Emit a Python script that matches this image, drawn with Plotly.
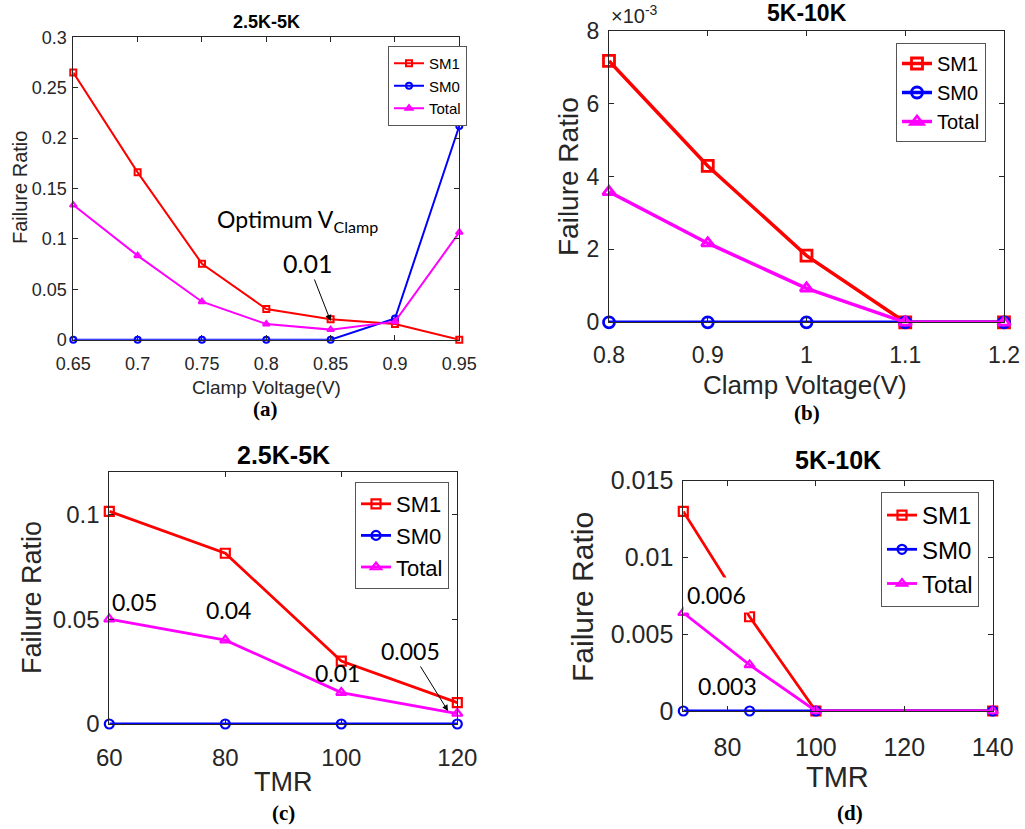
import plotly.graph_objects as go

# ---- (a) Clamp voltage sweep, 2.5K-5K ----
vclamp_a = [0.65, 0.70, 0.75, 0.80, 0.85, 0.90, 0.95]
sm1_a = [0.265, 0.166, 0.0754, 0.0304, 0.0202, 0.0155, 0.0]
sm0_a = [0.0, 0.0, 0.0, 0.0, 0.0, 0.021, 0.212]
total_a = [0.1336, 0.0834, 0.0377, 0.0155, 0.01, 0.0179, 0.1065]
xticks_a = [0.65, 0.70, 0.75, 0.80, 0.85, 0.90, 0.95]
xticktext_a = ["0.65", "0.7", "0.75", "0.8", "0.85", "0.9", "0.95"]
yticks_a = [0, 0.05, 0.10, 0.15, 0.20, 0.25, 0.30]
yticktext_a = ["0", "0.05", "0.1", "0.15", "0.2", "0.25", "0.3"]

# ---- (b) Clamp voltage sweep, 5K-10K ----
vclamp_b = [0.8, 0.9, 1.0, 1.1, 1.2]
sm1_b = [7.17e-3, 4.29e-3, 1.83e-3, 0.0, 0.0]
sm0_b = [0.0, 0.0, 0.0, 0.0, 0.0]
total_b = [3.58e-3, 2.17e-3, 0.93e-3, 0.0, 0.0]
xticks_b = [0.8, 0.9, 1.0, 1.1, 1.2]
xticktext_b = ["0.8", "0.9", "1", "1.1", "1.2"]
yticks_b = [0, 0.002, 0.004, 0.006, 0.008]
yticktext_b = ["0", "2", "4", "6", "8"]

# ---- (c) TMR sweep, 2.5K-5K ----
tmr_c = [60, 80, 100, 120]
sm1_c = [0.1014, 0.0814, 0.030, 0.0102]
sm0_c = [0.0, 0.0, 0.0, 0.0]
total_c = [0.05, 0.04, 0.015, 0.005]
xticks_c = [60, 80, 100, 120]
yticks_c = [0, 0.05, 0.1]
yticktext_c = ["0", "0.05", "0.1"]

# ---- (d) TMR sweep, 5K-10K ----
tmr_d = [70, 85, 100, 140]
sm1_d = [0.0130, 0.00614, 0.0, 0.0]
sm0_d = [0.0, 0.0, 0.0, 0.0]
total_d = [0.0064, 0.003, 0.0, 0.0]
xticks_d = [80, 100, 120, 140]
yticks_d = [0, 0.005, 0.01, 0.015]
yticktext_d = ["0", "0.005", "0.01", "0.015"]

series_names = ["SM1", "SM0", "Total"]
series_colors = ["#FF0000", "#0000FF", "#FF00FF"]
series_symbols = ["square-open", "circle-open", "triangle-up-open"]

W, H = 1025, 829
SANS = "Liberation Sans, Arial, sans-serif"
NOTE = "Lato, Calibri, sans-serif"
SERIF = "Liberation Serif, Times New Roman, serif"
INK = "#262626"


def px_x(p):
    return p / W


def px_y(p):
    return (H - p) / H


fig = go.Figure()

panels = [
    # axis suffix, legend id, x, series, line width, marker size, marker line width
    ("", "legend", vclamp_a, (sm1_a, sm0_a, total_a), 2.0, 6, 2.0),
    ("2", "legend2", vclamp_b, (sm1_b, sm0_b, total_b), 3.5, 11, 2.8),
    ("3", "legend3", tmr_c, (sm1_c, sm0_c, total_c), 2.8, 9, 2.2),
    ("4", "legend4", tmr_d, (sm1_d, sm0_d, total_d), 2.8, 9, 2.2),
]

for suffix, leg, xs, ys_all, lw, ms, mlw in panels:
    for name, color, sym, ys in zip(series_names, series_colors, series_symbols, ys_all):
        fig.add_trace(go.Scatter(
            x=xs, y=ys, name=name, mode="lines+markers",
            xaxis="x" + suffix, yaxis="y" + suffix, legend=leg,
            line=dict(color=color, width=lw),
            marker=dict(symbol=sym, size=ms, color=color, line=dict(color=color, width=mlw)),
            cliponaxis=False,
        ))


def axis(domain, rng, tickvals, ticktext, fsize, standoff, anchor):
    return dict(
        domain=domain, range=rng, tickvals=tickvals, ticktext=ticktext,
        tickfont=dict(family=SANS, size=fsize, color=INK),
        showline=True, linecolor=INK, linewidth=1, mirror="ticks",
        ticks="inside", ticklen=5, tickcolor=INK, tickwidth=1,
        showgrid=False, zeroline=False, anchor=anchor,
        ticklabelstandoff=standoff, automargin=False,
    )


# plot-area rectangles in pixels: left, right, top, bottom
rect_a = (73.3, 459.3, 37.3, 339.7)
rect_b = (609.0, 1004.0, 30.7, 322.3)
rect_c = (109.3, 457.3, 472.3, 724.0)
rect_d = (683.3, 992.7, 480.7, 711.0)


def dom_x(r):
    return [px_x(r[0]), px_x(r[1])]


def dom_y(r):
    return [px_y(r[3]), px_y(r[2])]


fig.update_layout(
    xaxis=axis(dom_x(rect_a), [0.65, 0.95], xticks_a, xticktext_a, 18, 8, "y"),
    yaxis=axis(dom_y(rect_a), [0, 0.3], yticks_a, yticktext_a, 18, 2, "x"),
    xaxis2=axis(dom_x(rect_b), [0.8, 1.2], xticks_b, xticktext_b, 23, 12, "y2"),
    yaxis2=axis(dom_y(rect_b), [0, 0.008], yticks_b, yticktext_b, 23, 4, "x2"),
    xaxis3=axis(dom_x(rect_c), [60, 120], xticks_c, [str(v) for v in xticks_c], 24, 12, "y3"),
    yaxis3=axis(dom_y(rect_c), [0, 0.12], yticks_c, yticktext_c, 24, 4, "x3"),
    xaxis4=axis(dom_x(rect_d), [70, 140], xticks_d, [str(v) for v in xticks_d], 25, 14, "y4"),
    yaxis4=axis(dom_y(rect_d), [0, 0.015], yticks_d, yticktext_d, 25, 4, "x4"),
)


def legend(xp, yp, fsize):
    return dict(
        x=px_x(xp), y=px_y(yp), xanchor="left", yanchor="top",
        xref="paper", yref="paper",
        bgcolor="white", bordercolor="#555555", borderwidth=1,
        font=dict(family=SANS, size=fsize, color="black"),
        itemwidth=30, tracegroupgap=0,
    )


fig.update_layout(
    legend=legend(388, 46, 15),
    legend2=legend(896, 43, 20),
    legend3=legend(355, 482, 22),
    legend4=legend(881, 492, 24),
)

annotations = []


def text_px(x, y, text, size, family=SANS, bold=False, angle=0, color="black"):
    annotations.append(dict(
        x=px_x(x), y=px_y(y), xref="paper", yref="paper",
        text=f"<b>{text}</b>" if bold else text, showarrow=False,
        font=dict(family=family, size=size, color=color),
        xanchor="center", yanchor="middle", textangle=angle,
    ))


# panel titles
text_px(266, 22, "2.5K-5K", 18, bold=True)
text_px(807, 13, "5K-10K", 23, bold=True)
text_px(283, 455, "2.5K-5K", 25, bold=True)
text_px(838, 460, "5K-10K", 25, bold=True)

# axis titles
text_px(20, 188, "Failure Ratio", 20, angle=-90, color=INK)
text_px(266, 387, "Clamp Voltage(V)", 19, color=INK)
text_px(568, 177, "Failure Ratio", 28, angle=-90, color=INK)
text_px(805, 385, "Clamp Voltage(V)", 26, color=INK)
text_px(32, 598, "Failure Ratio", 27, angle=-90, color=INK)
text_px(283, 782, "TMR", 27, color=INK)
text_px(582, 597, "Failure Ratio", 30, angle=-90, color=INK)
text_px(837, 777, "TMR", 29, color=INK)

# sub-figure labels
text_px(265, 409, "(a)", 21, family=SERIF, bold=True)
text_px(807, 413, "(b)", 21, family=SERIF, bold=True)
text_px(283, 813, "(c)", 21, family=SERIF, bold=True)
text_px(850, 813, "(d)", 21, family=SERIF, bold=True)

# exponent for panel (b)
annotations.append(dict(
    x=px_x(609), y=px_y(14), xref="paper", yref="paper", showarrow=False,
    text="×10<sup>-3</sup>", xanchor="left", yanchor="middle",
    font=dict(family=SANS, size=20, color=INK),
))

# panel (a) notes
annotations.append(dict(
    x=0.8239, y=0.1187, xref="x", yref="y", showarrow=False,
    text="Optimum V<sub>Clamp</sub>", font=dict(family=NOTE, size=23, color="black"),
))
# value label with an arrow pointing at the optimum point
annotations.append(dict(
    x=0.85, y=0.0185, xref="x", yref="y", ax=0.8324, ay=0.0761, axref="x", ayref="y",
    text="0.01", font=dict(family=NOTE, size=25, color="black"),
    showarrow=True, arrowhead=2, arrowsize=1.2, arrowwidth=1, arrowcolor="black",
))

# panel (c) notes
for xv, yv, t in [(64.4, 0.0582, "0.05"), (80.6, 0.0543, "0.04"), (99.3, 0.0243, "0.01")]:
    annotations.append(dict(
        x=xv, y=yv, xref="x3", yref="y3", showarrow=False, text=t,
        font=dict(family=NOTE, size=23, color="black"),
    ))
annotations.append(dict(
    x=118.4, y=0.0062, xref="x3", yref="y3", ax=112.0, ay=0.0348, axref="x3", ayref="y3",
    text="0.005", font=dict(family=NOTE, size=23, color="black"),
    showarrow=True, arrowhead=2, arrowsize=1.2, arrowwidth=1, arrowcolor="black",
))

# panel (d) notes
annotations.append(dict(
    x=77.4, y=0.00756, xref="x4", yref="y4", showarrow=False, text="0.006",
    font=dict(family=NOTE, size=23, color="black"), bgcolor="white", borderpad=3,
))
annotations.append(dict(
    x=80.1, y=0.00163, xref="x4", yref="y4", showarrow=False, text="0.003",
    font=dict(family=NOTE, size=23, color="black"),
))

fig.update_layout(
    annotations=annotations,
    width=W, height=H,
    margin=dict(l=0, r=0, t=0, b=0, pad=0, autoexpand=False),
    paper_bgcolor="white", plot_bgcolor="white",
    showlegend=True,
)

fig.write_html("out.html")
